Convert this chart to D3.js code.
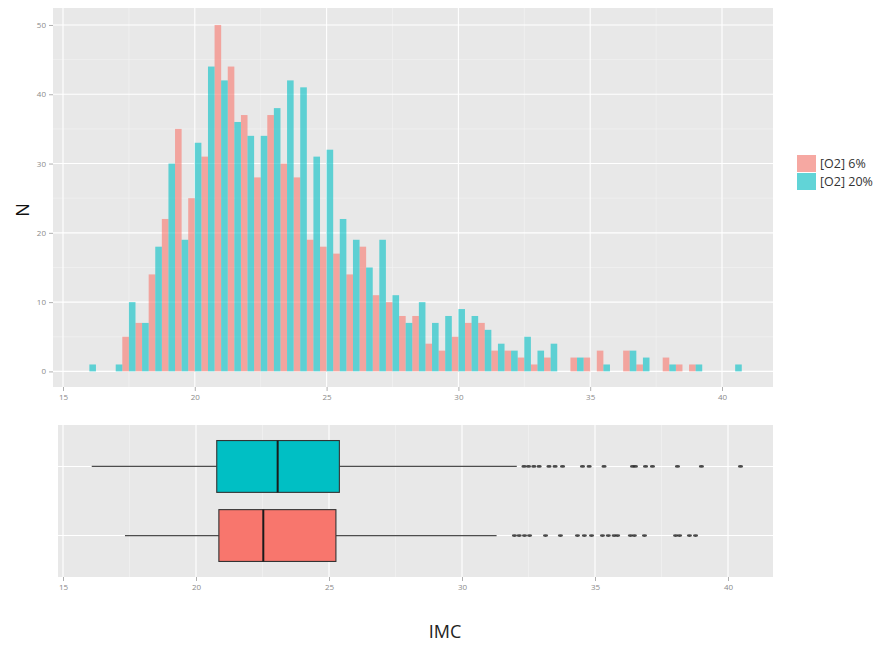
<!DOCTYPE html>
<html>
<head>
<meta charset="utf-8">
<script src="https://cdn.jsdelivr.net/npm/d3@7"></script>
<style>
  html, body { margin: 0; padding: 0; background: #ffffff; }
  svg { display: block; }
</style>
</head>
<body>
<svg id="chart" width="884" height="646"></svg>
<script>
// ---- data ----------------------------------------------------------
const groups = ["[O2] 6%", "[O2] 20%"];

// histogram bins (centre of each 0.5-wide IMC bin) and counts per group
const binCenters = [16.0, 16.5, 17.0, 17.5, 18.0, 18.5, 19.0, 19.5, 20.0, 20.5,
                    21.0, 21.5, 22.0, 22.5, 23.0, 23.5, 24.0, 24.5, 25.0, 25.5,
                    26.0, 26.5, 27.0, 27.5, 28.0, 28.5, 29.0, 29.5, 30.0, 30.5,
                    31.0, 31.5, 32.0, 32.5, 33.0, 33.5, 34.0, 34.5, 35.0, 35.5,
                    36.0, 36.5, 37.0, 37.5, 38.0, 38.5, 39.0, 39.5, 40.0, 40.5];
const countO2_6  = [0, 0, 0, 5, 7, 14, 22, 35, 25, 31,
                    50, 44, 37, 28, 37, 30, 28, 19, 18, 17,
                    14, 18, 11, 10, 8, 8, 4, 3, 5, 7,
                    7, 3, 3, 2, 1, 2, 0, 2, 2, 3,
                    0, 3, 1, 0, 2, 1, 1, 0, 0, 0];
const countO2_20 = [1, 0, 1, 10, 7, 18, 30, 19, 33, 44,
                    42, 36, 34, 34, 38, 42, 41, 31, 32, 22,
                    19, 15, 19, 11, 7, 10, 7, 8, 9, 8,
                    6, 4, 3, 5, 3, 4, 0, 2, 0, 1,
                    0, 3, 2, 0, 1, 0, 1, 0, 0, 1];
const binWidth = 0.5;

// box-plot summaries per group: [O2] 6%, [O2] 20%
const whiskerLow  = [17.33, 16.08];
const quart1      = [20.86, 20.78];
const medians     = [22.53, 23.07];
const quart3      = [25.26, 25.39];
const whiskerHigh = [31.30, 32.06];
const outliersO2_6  = [31.97, 32.15, 32.35, 32.54, 33.14, 33.70, 34.34, 34.60, 34.87,
                       35.28, 35.50, 35.72, 35.85, 36.33, 36.48, 36.86, 38.03, 38.18,
                       38.55, 38.78];
const outliersO2_20 = [32.33, 32.50, 32.70, 32.90, 33.27, 33.50, 33.78, 34.53, 34.78,
                       35.34, 36.41, 36.52, 36.90, 37.16, 38.10, 39.00, 40.47];

const xTicks = [15, 20, 25, 30, 35, 40];
const xMinor = [17.5, 22.5, 27.5, 32.5, 37.5];
const yTicks = [0, 10, 20, 30, 40, 50];
const yMinor = [5, 15, 25, 35, 45];

// ---- styling -------------------------------------------------------
const fills = ["#F8766D", "#00BFC4"];
const panelBg = "#E8E8E8";
const tickText = "#8a8a8a";
const font = "'Open Sans', 'Liberation Sans', sans-serif";

const svg = d3.select("#chart");

// ---- histogram panel -----------------------------------------------
const histBox = { x0: 53, x1: 773, y0: 8, y1: 387 };
const xTop = d3.scaleLinear().domain([15, 40]).range([63, 722]);
const yTop = d3.scaleLinear().domain([-2.25, 52.45]).range([histBox.y1, histBox.y0]);

const gTop = svg.append("g");
gTop.append("rect")
  .attr("x", histBox.x0).attr("y", histBox.y0)
  .attr("width", histBox.x1 - histBox.x0).attr("height", histBox.y1 - histBox.y0)
  .attr("fill", panelBg);

// minor grid
gTop.selectAll("line.vmin").data(xMinor).join("line")
  .attr("x1", d => xTop(d)).attr("x2", d => xTop(d))
  .attr("y1", histBox.y0).attr("y2", histBox.y1)
  .attr("stroke", "#F3F3F3").attr("stroke-width", 0.6);
gTop.selectAll("line.hmin").data(yMinor).join("line")
  .attr("y1", d => yTop(d)).attr("y2", d => yTop(d))
  .attr("x1", histBox.x0).attr("x2", histBox.x1)
  .attr("stroke", "#F3F3F3").attr("stroke-width", 0.6);
// major grid
gTop.selectAll("line.vmaj").data(xTicks).join("line")
  .attr("x1", d => xTop(d)).attr("x2", d => xTop(d))
  .attr("y1", histBox.y0).attr("y2", histBox.y1)
  .attr("stroke", "#ffffff").attr("stroke-width", 1.1);
gTop.selectAll("line.hmaj").data(yTicks).join("line")
  .attr("y1", d => yTop(d)).attr("y2", d => yTop(d))
  .attr("x1", histBox.x0).attr("x2", histBox.x1)
  .attr("stroke", "#ffffff").attr("stroke-width", 1.1);

// dodged histogram bars: 6% on the left half of each bin, 20% on the right
const series = [countO2_6, countO2_20];
series.forEach((counts, gi) => {
  const bars = binCenters.map((c, i) => ({ c, n: counts[i] })).filter(d => d.n > 0);
  gTop.selectAll(null).data(bars).join("rect")
    .attr("x", d => gi === 0 ? xTop(d.c - binWidth / 2) : xTop(d.c))
    .attr("width", d => xTop(d.c + binWidth / 2) - xTop(d.c))
    .attr("y", d => yTop(d.n))
    .attr("height", d => yTop(0) - yTop(d.n))
    .attr("fill", fills[gi])
    .attr("fill-opacity", 0.6);
});

// axes
const yAxisTop = d3.axisLeft(yTop).tickValues(yTicks).tickSize(4).tickPadding(3);
const gy = svg.append("g").attr("transform", `translate(${histBox.x0},0)`).call(yAxisTop);
const xAxisTop = d3.axisBottom(xTop).tickValues(xTicks).tickSize(4).tickPadding(3);
const gx = svg.append("g").attr("transform", `translate(0,${histBox.y1})`).call(xAxisTop);

// ---- box-plot panel ------------------------------------------------
const boxPanel = { x0: 58, x1: 773, y0: 425, y1: 577 };
const xBot = d3.scaleLinear().domain([15, 40]).range([63, 728]);
// discrete groups at positions 1 and 2, expanded by 0.6 on each side
const unit = (boxPanel.y1 - boxPanel.y0) / 2.2;
const yBot = d3.scalePoint().domain(groups)
  .range([boxPanel.y1 - unit * 0.6, boxPanel.y0 + unit * 0.6]);
const boxH = unit * 0.75;

const gBot = svg.append("g");
gBot.append("rect")
  .attr("x", boxPanel.x0).attr("y", boxPanel.y0)
  .attr("width", boxPanel.x1 - boxPanel.x0).attr("height", boxPanel.y1 - boxPanel.y0)
  .attr("fill", panelBg);
gBot.selectAll("line.vmin").data(xMinor).join("line")
  .attr("x1", d => xBot(d)).attr("x2", d => xBot(d))
  .attr("y1", boxPanel.y0).attr("y2", boxPanel.y1)
  .attr("stroke", "#F3F3F3").attr("stroke-width", 0.6);
gBot.selectAll("line.vmaj").data(xTicks).join("line")
  .attr("x1", d => xBot(d)).attr("x2", d => xBot(d))
  .attr("y1", boxPanel.y0).attr("y2", boxPanel.y1)
  .attr("stroke", "#ffffff").attr("stroke-width", 1.1);
gBot.selectAll("line.hmaj").data(groups).join("line")
  .attr("y1", d => yBot(d)).attr("y2", d => yBot(d))
  .attr("x1", boxPanel.x0).attr("x2", boxPanel.x1)
  .attr("stroke", "#ffffff").attr("stroke-width", 1.1);

const outliers = [outliersO2_6, outliersO2_20];
groups.forEach((g, gi) => {
  const cy = yBot(g);
  // whiskers
  gBot.append("line")
    .attr("x1", xBot(whiskerLow[gi])).attr("x2", xBot(quart1[gi]))
    .attr("y1", cy).attr("y2", cy)
    .attr("stroke", "#4d4d4d").attr("stroke-width", 1.3);
  gBot.append("line")
    .attr("x1", xBot(quart3[gi])).attr("x2", xBot(whiskerHigh[gi]))
    .attr("y1", cy).attr("y2", cy)
    .attr("stroke", "#4d4d4d").attr("stroke-width", 1.3);
  // box
  gBot.append("rect")
    .attr("x", xBot(quart1[gi])).attr("y", cy - boxH / 2)
    .attr("width", xBot(quart3[gi]) - xBot(quart1[gi])).attr("height", boxH)
    .attr("fill", fills[gi])
    .attr("stroke", "#333").attr("stroke-width", 1.1);
  // median
  gBot.append("line")
    .attr("x1", xBot(medians[gi])).attr("x2", xBot(medians[gi]))
    .attr("y1", cy - boxH / 2).attr("y2", cy + boxH / 2)
    .attr("stroke", "#1a1a1a").attr("stroke-width", 2);
  // outliers
  gBot.selectAll(null).data(outliers[gi]).join("ellipse")
    .attr("cx", d => xBot(d)).attr("cy", cy)
    .attr("rx", 2.6).attr("ry", 1.4)
    .attr("fill", "#2a2a2a").attr("fill-opacity", 0.85);
});

const xAxisBot = d3.axisBottom(xBot).tickValues(xTicks).tickSize(4).tickPadding(3);
const gx2 = svg.append("g").attr("transform", `translate(0,${boxPanel.y1})`).call(xAxisBot);

// shared axis styling
[gy, gx, gx2].forEach(g => {
  g.select(".domain").remove();
  g.selectAll(".tick line").attr("stroke", "#9a9a9a").attr("stroke-width", 0.8);
  g.selectAll(".tick text").attr("fill", tickText)
    .style("font-family", font).style("font-size", "8px");
});

// ---- titles --------------------------------------------------------
svg.append("text")
  .attr("transform", "translate(29,210) rotate(-90)")
  .attr("text-anchor", "middle")
  .style("font-family", font).style("font-size", "18px")
  .attr("fill", "#111")
  .text("N");

svg.append("text")
  .attr("x", 445).attr("y", 638)
  .attr("text-anchor", "middle")
  .style("font-family", font).style("font-size", "18px")
  .attr("fill", "#222")
  .text("IMC");

// ---- legend --------------------------------------------------------
const legend = svg.append("g").attr("transform", "translate(797,155)");
groups.forEach((g, gi) => {
  const row = legend.append("g").attr("transform", `translate(0,${gi * 18})`);
  row.append("rect").attr("width", 19).attr("height", 17).attr("fill", "#F2F2F2");
  row.append("rect").attr("width", 19).attr("height", 17)
    .attr("fill", fills[gi]).attr("fill-opacity", 0.6);
  row.append("text")
    .attr("x", 23).attr("y", 12.5)
    .style("font-family", font).style("font-size", "12.5px")
    .attr("fill", "#333")
    .text(g);
});
</script>
</body>
</html>
